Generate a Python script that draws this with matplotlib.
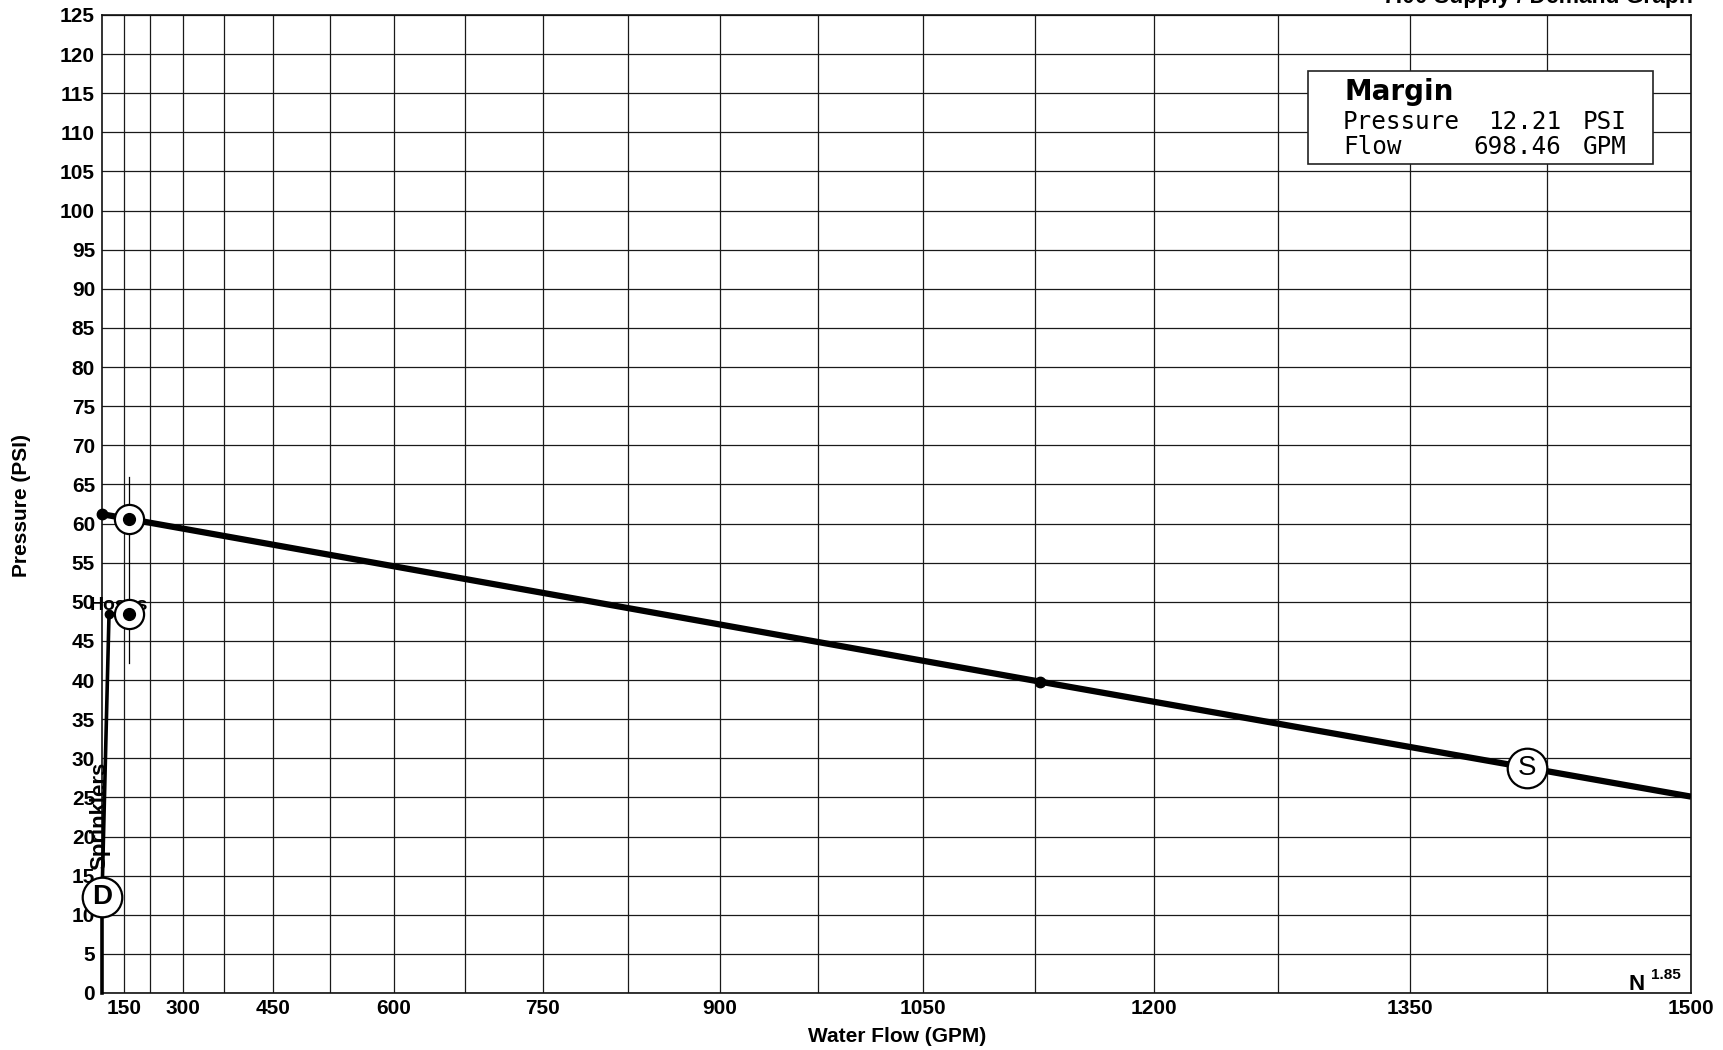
import numpy as np
import matplotlib
matplotlib.use('Agg')
import matplotlib.pyplot as plt
from matplotlib.patches import Rectangle
import matplotlib.transforms as mtransforms

plt.rcParams['font.family'] = ['Liberation Sans', 'DejaVu Sans']

# ---------------- data ----------------
x_tick_values = [150, 300, 450, 600, 750, 900, 1050, 1200, 1350, 1500]
x_minor_grid = [225, 375, 525, 675, 825, 975, 1125, 1275, 1425]
y_tick_values = list(range(0, 130, 5))

# water supply (static, residual, end of curve) - straight on N^1.85 paper
supply_flow = [0, 1128, 1500]
supply_pressure = [61.2, 39.8, 25.1]
supply_dots_flow = [0, 1128]
supply_dots_pressure = [61.2, 39.8]

# demand curve: sprinklers then hose allowance
sprinkler_flow = [0, 0, 80]
sprinkler_pressure = [0, 12.3, 48.4]
hose_flow = [80, 165]
hose_pressure = [48.4, 48.4]

demand_point = (165, 48.4)
supply_at_demand = (165, 60.6)
marker_line_pressure = [42.2, 66.0]

s_label_point = (1414, 28.8)
d_label_point = (0, 12.3)

margin_pressure = 12.21
margin_flow = 698.46

# ---------------- figure ----------------
W, H = 1724, 1050
fig = plt.figure(figsize=(W / 100, H / 100), dpi=100)
fx = lambda px: px / W
fy = lambda py: 1 - py / H

L, R, T, B = 102, 1691, 15, 993
ax = fig.add_axes([fx(L), fy(B), (R - L) / W, (B - T) / H])

fwd = lambda q: np.sign(q) * np.abs(q) ** 1.85
inv = lambda v: np.sign(v) * np.abs(v) ** (1 / 1.85)
ax.set_xscale('function', functions=(fwd, inv))
ax.set_xlim(0, 1500)
ax.set_ylim(0, 125)

ax.set_xticks(x_tick_values)
ax.set_xticklabels([str(v) for v in x_tick_values])
ax.set_xticks(x_minor_grid, minor=True)
ax.set_yticks(y_tick_values)
ax.set_yticklabels([str(v) for v in y_tick_values])
ax.tick_params(axis='both', which='both', length=0)
ax.tick_params(axis='x', pad=4, labelsize=15)
ax.tick_params(axis='y', pad=5, labelsize=15)
for lab in ax.get_xticklabels() + ax.get_yticklabels():
    lab.set_fontweight('bold')

ax.grid(True, which='both', color='#1a1a1a', lw=0.9)
ax.set_axisbelow(True)
for sp in ax.spines.values():
    sp.set_linewidth(1.2)
    sp.set_color('#111111')

# supply curve
ax.plot(supply_flow, supply_pressure, color='black', lw=4.5, solid_capstyle='butt', zorder=3)
ax.plot(supply_dots_flow, supply_dots_pressure, 'o', color='black', ms=7.5, zorder=4, clip_on=False)

# demand curve
ax.plot(sprinkler_flow, sprinkler_pressure, color='black', lw=2.6, zorder=3, clip_on=False)
ax.plot(hose_flow, hose_pressure, color='black', lw=2.6, zorder=3)
ax.plot([sprinkler_flow[-1]], [sprinkler_pressure[-1]], 'o', color='black', ms=6, zorder=4)

# vertical marker line through the demand / supply points
ax.plot([demand_point[0], demand_point[0]], marker_line_pressure, color='black', lw=0.9, zorder=3)

# labels on the curves
ax.text(130, 48.9, 'Hoses', ha='center', va='baseline', fontsize=14, fontweight='bold', zorder=4)
tr = mtransforms.offset_copy(ax.transData, fig=fig, x=-2, y=0, units='dots')
ax.text(0, 22.6, 'Sprinklers', rotation=90, ha='center', va='center', fontsize=16,
        fontweight='bold', transform=tr, zorder=4, clip_on=False)

# circled points
for (qx, py) in [demand_point, supply_at_demand]:
    ax.plot([qx], [py], 'o', ms=21, mfc='white', mec='black', mew=1.6, zorder=5, clip_on=False)
    ax.plot([qx], [py], 'o', ms=8.5, color='black', zorder=6, clip_on=False)

for (pt, lab, wt) in [(s_label_point, 'S', 'normal'), (d_label_point, 'D', 'bold')]:
    ax.plot([pt[0]], [pt[1]], 'o', ms=28.5, mfc='white', mec='black', mew=1.6, zorder=5, clip_on=False)
    ax.text(pt[0], pt[1], lab, ha='center', va='center', fontsize=20, fontweight=wt,
            zorder=6, clip_on=False)

# N^1.85 note
ax.annotate('1.85', xy=(1, 0), xycoords='axes fraction', xytext=(-10, 14),
            textcoords='offset pixels', ha='right', va='baseline', fontsize=11, fontweight='bold')
ax.annotate('N', xy=(1, 0), xycoords='axes fraction', xytext=(-46, 3),
            textcoords='offset pixels', ha='right', va='baseline', fontsize=16, fontweight='bold')

# axis labels and title
fig.text(fx(22), fy(505), 'Pressure (PSI)', rotation=90, ha='center', va='center',
         fontsize=15, fontweight='bold')
fig.text(fx(897), fy(1037), 'Water Flow (GPM)', ha='center', va='center',
         fontsize=15, fontweight='bold')
fig.text(fx(1693), fy(3), '7.00 Supply / Demand Graph', ha='right', va='baseline',
         fontsize=16.5, fontweight='bold')

# margin box
fig.patches.append(Rectangle((fx(1308), fy(164)), (1653 - 1308) / W, (164 - 71) / H,
                             transform=fig.transFigure, facecolor='white',
                             edgecolor='#222222', lw=1.2, zorder=2))
mono = dict(family='DejaVu Sans Mono', fontsize=17.5, va='baseline', zorder=3)
fig.text(fx(1345), fy(100), 'Margin', family='DejaVu Sans', fontweight='bold',
         fontsize=20, va='baseline', zorder=3)
fig.text(fx(1343), fy(129), 'Pressure', **mono)
fig.text(fx(1561), fy(129), f'{margin_pressure:.2f}', ha='right', **mono)
fig.text(fx(1583), fy(129), 'PSI', ha='left', **mono)
fig.text(fx(1343), fy(154), 'Flow', **mono)
fig.text(fx(1561), fy(154), f'{margin_flow:.2f}', ha='right', **mono)
fig.text(fx(1583), fy(154), 'GPM', ha='left', **mono)

fig.savefig('out.png', dpi=100)
